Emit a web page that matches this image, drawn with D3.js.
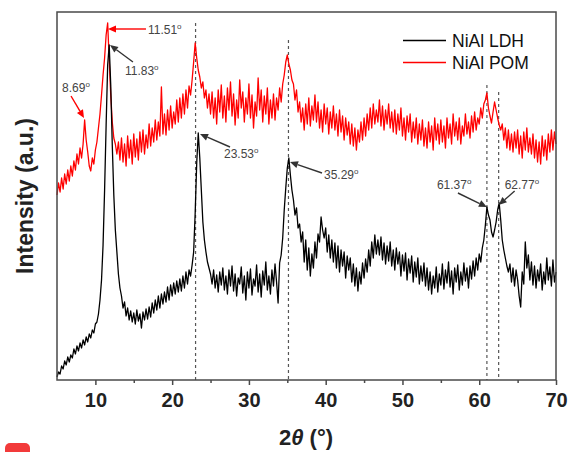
<!DOCTYPE html>
<meta charset="utf-8">
<style>
    body { margin: 0; background: #fff; }
    text { font-family: "Liberation Sans", Arial, sans-serif; }
</style>
<svg id="chart" width="569" height="452"></svg>
<script src="https://d3js.org/d3.v7.min.js"></script>
<script>
    // 2theta grid, 0.2 deg steps from 5 to 70
    const twoTheta = d3.range(0, 326).map(i => +(5 + i * 0.2).toFixed(1));

    // NiAl LDH (black), one row = 2 degrees
    const ldh = [
        3, 8, 6, 14, 11, 19, 15, 23, 18, 25,
        22, 31, 26, 34, 29, 37, 32, 40, 35, 43,
        38, 46, 42, 50, 47, 56, 58, 66, 80, 100,
        135, 190, 255, 315, 335, 295, 235, 185, 150, 128,
        106, 92, 84, 72, 78, 64, 72, 60, 69, 58,
        67, 56, 70, 59, 66, 52, 68, 60, 71, 61,
        73, 63, 77, 67, 80, 70, 84, 72, 86, 76,
        88, 78, 93, 80, 95, 84, 97, 86, 99, 88,
        101, 89, 104, 92, 108, 96, 110, 104, 115, 128,
        167, 217, 247, 222, 190, 158, 140, 128, 118, 112,
        106, 96, 110, 92, 105, 88, 108, 95, 112, 90,
        104, 86, 110, 94, 114, 89, 106, 84, 102, 96,
        113, 87, 104, 80, 108, 92, 111, 85, 101, 94,
        115, 88, 106, 83, 109, 95, 118, 90, 104, 86,
        110, 94, 116, 98, 77, 117, 125, 142, 170, 192,
        212, 222, 205, 190, 180, 165, 172, 152, 156, 138,
        148, 118, 140, 110, 132, 104, 126, 112, 138, 122,
        146, 138, 163, 150, 142, 152, 128, 145, 122, 140,
        118, 137, 112, 134, 108, 130, 114, 128, 102, 124,
        110, 122, 98, 116, 94, 112, 89, 108, 96, 117,
        102, 121, 108, 130, 114, 138, 122, 145, 126, 140,
        125, 143, 120, 137, 116, 134, 119, 138, 114, 130,
        110, 132, 116, 128, 104, 125, 109, 127, 100, 121,
        107, 124, 98, 118, 103, 122, 96, 114, 99, 117,
        94, 112, 90, 108, 86, 104, 92, 113, 88, 106,
        95, 116, 91, 110, 97, 118, 93, 109, 86, 112,
        98, 115, 90, 108, 95, 117, 99, 112, 92, 114,
        101, 119, 104, 122, 110, 126, 118, 132, 140, 155,
        173, 165, 160, 148, 143, 150, 158, 170, 177, 160,
        140, 130, 122, 114, 108, 116, 98, 112, 94, 110,
        100, 84, 73, 108, 96, 138, 112, 125, 100, 118,
        95, 114, 92, 110, 99, 116, 90, 108, 96, 122,
        100, 113, 94, 120, 98, 108
    ];

    // NiAl POM (red)
    const pom = [
        185, 197, 188, 202, 191, 206, 196, 210, 199, 214,
        204, 219, 210, 226, 216, 232, 222, 236, 260, 240,
        228, 214, 209, 222, 216, 230, 238, 252, 266, 285,
        305, 322, 345, 357, 320, 285, 258, 242, 236, 226,
        238, 220, 242, 218, 236, 214, 244, 222, 240, 216,
        246, 223, 241, 220, 248, 228, 250, 226, 245, 232,
        256, 234, 252, 238, 260, 240, 258, 244, 293, 246,
        266, 245, 270, 250, 274, 252, 268, 256, 280, 258,
        282, 262, 286, 266, 290, 272, 294, 285, 300, 318,
        337, 322, 310, 303, 292, 298, 282, 290, 272, 286,
        266, 288, 262, 282, 256, 290, 268, 295, 262, 284,
        258, 292, 270, 298, 264, 286, 255, 280, 262, 300,
        272, 288, 258, 282, 266, 296, 262, 285, 252, 278,
        264, 302, 270, 290, 258, 284, 266, 292, 256, 280,
        262, 286, 260, 282, 270, 292, 278, 296, 305, 318,
        325, 316, 310, 300, 296, 280, 290, 268, 278, 258,
        272, 250, 276, 256, 282, 254, 274, 260, 285, 258,
        278, 252, 270, 248, 276, 256, 272, 246, 268, 252,
        274, 250, 266, 244, 270, 248, 264, 240, 262, 245,
        258, 236, 256, 234, 252, 230, 250, 238, 258, 240,
        262, 244, 266, 250, 272, 252, 276, 256, 270, 258,
        280, 254, 274, 250, 270, 256, 276, 252, 268, 248,
        270, 246, 266, 250, 272, 244, 262, 240, 264, 248,
        266, 238, 258, 242, 262, 236, 256, 240, 260, 234,
        252, 232, 258, 238, 254, 230, 262, 240, 256, 236,
        260, 238, 254, 232, 262, 242, 256, 236, 266, 244,
        258, 240, 262, 236, 254, 244, 266, 246, 258, 242,
        264, 248, 268, 250, 262, 256, 272, 262, 276, 280,
        287, 272, 264, 257, 268, 278, 270, 262, 255, 250,
        256, 240, 252, 232, 250, 230, 246, 228, 248, 232,
        250, 226, 244, 222, 248, 230, 252, 228, 242, 226,
        246, 222, 240, 218, 238, 216, 244, 224, 240, 220,
        246, 228, 250, 230, 248, 236
    ];

    const seriesNames = ["NiAl LDH", "NiAl POM"];
    const seriesColors = ["#000000", "#ff0000"];

    const xTicks = [10, 20, 30, 40, 50, 60, 70];
    const xMinorTicks = [15, 25, 35, 45, 55, 65];

    // dashed reference lines (angle, intensity at top of line)
    const dashAngles = [23.05, 35.15, 61.0, 62.53];
    const dashTops = [357, 340, 295, 288];

    // peak labels: text, series, arrow tip (angle, intensity)
    const peakLabels = ["11.51", "11.83", "8.69", "23.53", "35.29", "61.37", "62.77"];
    const peakSeries = [1, 0, 1, 0, 0, 0, 0];
    const tipAngle = [11.64, 11.9, 8.52, 23.63, 35.35, 61.0, 62.53];
    const tipIntensity = [351, 335, 262, 246, 218, 173, 175];

    // layout of the label arrows, in pixels from the tip
    const labelLayout = [
        {tail: [38, 0], text: [40, 5]},
        {tail: [23, 17], text: [15, 30]},
        {tail: [-13, -22], text: [-22, -26]},
        {tail: [30, 13], text: [24, 24]},
        {tail: [32, 11], text: [34, 17]},
        {tail: [-29, -14], text: [-50, -18]},
        {tail: [16, -14], text: [6, -16]}
    ];

    const W = 569, H = 452;
    const margin = {top: 12, right: 13, bottom: 72, left: 57};

    const svg = d3.select("#chart");

    const x = d3.scaleLinear().domain([5, 70]).range([margin.left, W - margin.right]);
    const y = d3.scaleLinear().domain([0, 368]).range([H - margin.bottom, margin.top]);

    // dashed lines behind curves
    svg.append("g").selectAll("line")
        .data(dashAngles)
        .join("line")
        .attr("x1", d => x(d)).attr("x2", d => x(d))
        .attr("y1", (d, i) => y(dashTops[i]))
        .attr("y2", y(0))
        .attr("stroke", "#555")
        .attr("stroke-width", 1.2)
        .attr("stroke-dasharray", "3,3");

    const line = d3.line()
        .x((d, i) => x(twoTheta[i]))
        .y(d => y(d));

    // red first so black sits on top
    [pom, ldh].forEach((vals, k) => {
        svg.append("path")
            .datum(vals)
            .attr("fill", "none")
            .attr("stroke", k === 0 ? seriesColors[1] : seriesColors[0])
            .attr("stroke-width", 1.3)
            .attr("stroke-linejoin", "round")
            .attr("d", line);
    });

    // frame
    svg.append("rect")
        .attr("x", x(5)).attr("y", y(368))
        .attr("width", x(70) - x(5))
        .attr("height", y(0) - y(368))
        .attr("fill", "none")
        .attr("stroke", "#4a4a4a")
        .attr("stroke-width", 1.5);

    // bottom axis
    const xAxis = svg.append("g")
        .attr("transform", `translate(0,${y(0)})`)
        .call(d3.axisBottom(x).tickValues(xTicks).tickSize(5).tickPadding(8).tickFormat(d3.format("d")));
    xAxis.select(".domain").remove();
    xAxis.selectAll("line").attr("stroke", "#4a4a4a").attr("stroke-width", 1.5);
    xAxis.selectAll("text")
        .attr("fill", "#222")
        .style("font-size", "20px")
        .style("font-weight", "bold");

    const xMinor = svg.append("g")
        .attr("transform", `translate(0,${y(0)})`)
        .call(d3.axisBottom(x).tickValues(xMinorTicks).tickSize(3).tickFormat(""));
    xMinor.select(".domain").remove();
    xMinor.selectAll("line").attr("stroke", "#4a4a4a").attr("stroke-width", 1.5);

    // axis titles
    const xt = svg.append("text")
        .attr("x", 306).attr("y", 445)
        .attr("text-anchor", "middle")
        .attr("fill", "#222")
        .style("font-size", "22px")
        .style("font-weight", "bold");
    xt.append("tspan").text("2");
    xt.append("tspan").style("font-style", "italic").text("θ");
    xt.append("tspan").text(" (°)");

    svg.append("text")
        .attr("transform", "translate(33,196) rotate(-90)")
        .attr("text-anchor", "middle")
        .attr("fill", "#222")
        .style("font-size", "23px")
        .style("font-weight", "bold")
        .text("Intensity (a.u.)");

    // legend
    const legend = svg.append("g");
    seriesNames.forEach((name, i) => {
        legend.append("line")
            .attr("x1", 403).attr("x2", 446)
            .attr("y1", 40.5 + i * 22).attr("y2", 40.5 + i * 22)
            .attr("stroke", seriesColors[i])
            .attr("stroke-width", 1.5);
        legend.append("text")
            .attr("x", 452).attr("y", 47 + i * 22)
            .attr("fill", "#111")
            .style("font-size", "17.5px")
            .text(name);
    });

    // peak annotations
    const ann = svg.append("g");
    peakLabels.forEach((lab, i) => {
        const tx = x(tipAngle[i]), ty = y(tipIntensity[i]);
        const L = labelLayout[i];
        const sx = tx + L.tail[0], sy = ty + L.tail[1];
        const col = peakSeries[i] === 1 ? "#ff0000" : "#333";
        const ang = Math.atan2(ty - sy, tx - sx);
        const len = 8, hw = 3.5;
        const bx = tx - len * Math.cos(ang), by = ty - len * Math.sin(ang);
        ann.append("line")
            .attr("x1", sx).attr("y1", sy)
            .attr("x2", bx).attr("y2", by)
            .attr("stroke", col)
            .attr("stroke-width", 1.4);
        ann.append("path")
            .attr("d", `M${tx},${ty}L${bx - hw * Math.sin(ang)},${by + hw * Math.cos(ang)}L${bx + hw * Math.sin(ang)},${by - hw * Math.cos(ang)}Z`)
            .attr("fill", col);
        const t = ann.append("text")
            .attr("x", tx + L.text[0]).attr("y", ty + L.text[1])
            .attr("fill", "#444")
            .style("font-size", "12px");
        t.append("tspan").text(lab);
        t.append("tspan").attr("dy", -5).style("font-size", "8px").text("o");
    });

    // red corner mark in the original picture
    svg.append("rect")
        .attr("x", 5).attr("y", 443)
        .attr("width", 25).attr("height", 20)
        .attr("rx", 5)
        .attr("fill", "#f23a3a");
</script>
